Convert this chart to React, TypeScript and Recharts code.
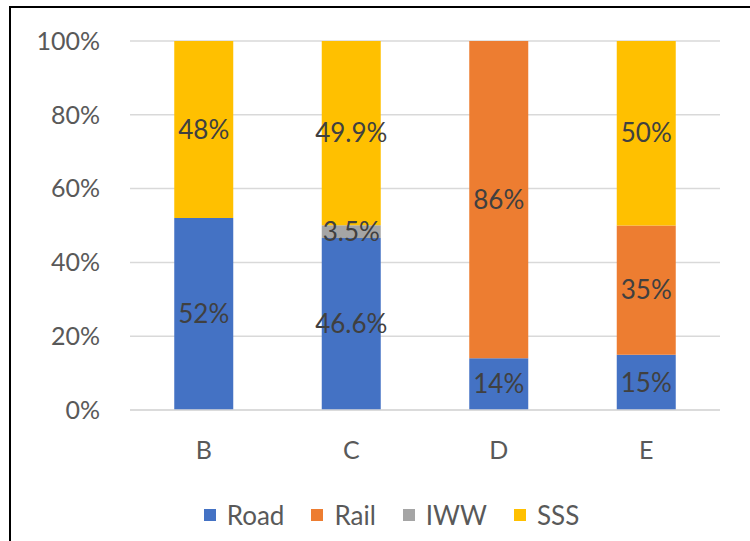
import React from 'react';
import { BarChart, Bar, XAxis, YAxis, CartesianGrid, Legend, LabelList } from 'recharts';

// Modal split per corridor, in percent of total tonnage
const corridors = ['B', 'C', 'D', 'E'];
const road: (number | null)[] = [52, 46.6, 14, 15];
const rail: (number | null)[] = [null, null, 86, 35];
const iww: (number | null)[] = [null, 3.5, null, null];
const sss: (number | null)[] = [48, 49.9, null, 50];
const percentTicks = [0, 20, 40, 60, 80, 100];

const series = [
  { key: 'Road', values: road, color: '#4472C4' },
  { key: 'Rail', values: rail, color: '#ED7D31' },
  { key: 'IWW', values: iww, color: '#A5A5A5' },
  { key: 'SSS', values: sss, color: '#FFC000' },
];

const data = corridors.map((name, i) => {
  const row: Record<string, string | number | null> = { name };
  series.forEach((s) => {
    row[s.key] = s.values[i];
  });
  return row;
});

const FONT = 'Lato, "Open Sans", sans-serif';
const TICK_COLOR = '#595959';
const LABEL_COLOR = '#404040';

const pct = (v: unknown) => (v === null || v === undefined || v === '' ? '' : `${v}%`);

const LegendContent = () => (
  <div
    style={{
      display: 'flex',
      justifyContent: 'center',
      alignItems: 'center',
      height: 30,
      paddingLeft: 90,
      fontFamily: FONT,
      fontSize: 26,
      color: TICK_COLOR,
    }}
  >
    {series.map((s) => (
      <div key={s.key} style={{ display: 'flex', alignItems: 'center', marginRight: 27 }}>
        <span style={{ display: 'inline-block', width: 12, height: 12, background: s.color, marginRight: 11 }} />
        <span style={{ lineHeight: '30px' }}>{s.key}</span>
      </div>
    ))}
  </div>
);

export default function App() {
  return (
    <div style={{ position: 'absolute', left: 0, top: 0, width: 750, height: 541, background: '#fff', overflow: 'hidden' }}>
      <div style={{ position: 'absolute', left: 9, top: 6, width: 741, height: 2, background: '#000' }} />
      <div style={{ position: 'absolute', left: 9, top: 6, width: 2, height: 535, background: '#000' }} />
      <BarChart
        width={750}
        height={541}
        data={data}
        margin={{ top: 41, right: 30, bottom: 11, left: 0 }}
        barCategoryGap="30%"
        style={{ position: 'absolute', left: 0, top: 0 }}
      >
        <CartesianGrid vertical={false} stroke="#d9d9d9" strokeWidth={1.5} />
        <XAxis
          dataKey="name"
          height={90}
          tickSize={0}
          tickMargin={31}
          axisLine={{ stroke: '#d9d9d9', strokeWidth: 1.5 }}
          tick={{ fill: TICK_COLOR, fontSize: 25, fontFamily: FONT }}
        />
        <YAxis
          width={130}
          domain={[0, 100]}
          ticks={percentTicks}
          tickFormatter={(v) => `${v}%`}
          tickSize={0}
          tickMargin={30}
          axisLine={false}
          tick={{ fill: TICK_COLOR, fontSize: 25, fontFamily: FONT }}
        />
        <Legend verticalAlign="bottom" height={30} content={<LegendContent />} />
        {series.map((s) => (
          <Bar key={s.key} dataKey={s.key} stackId="mode" fill={s.color} isAnimationActive={false}>
            <LabelList
              dataKey={s.key}
              position="center"
              formatter={pct}
              style={{ fill: LABEL_COLOR, fontSize: 26, fontFamily: FONT }}
            />
          </Bar>
        ))}
      </BarChart>
    </div>
  );
}
